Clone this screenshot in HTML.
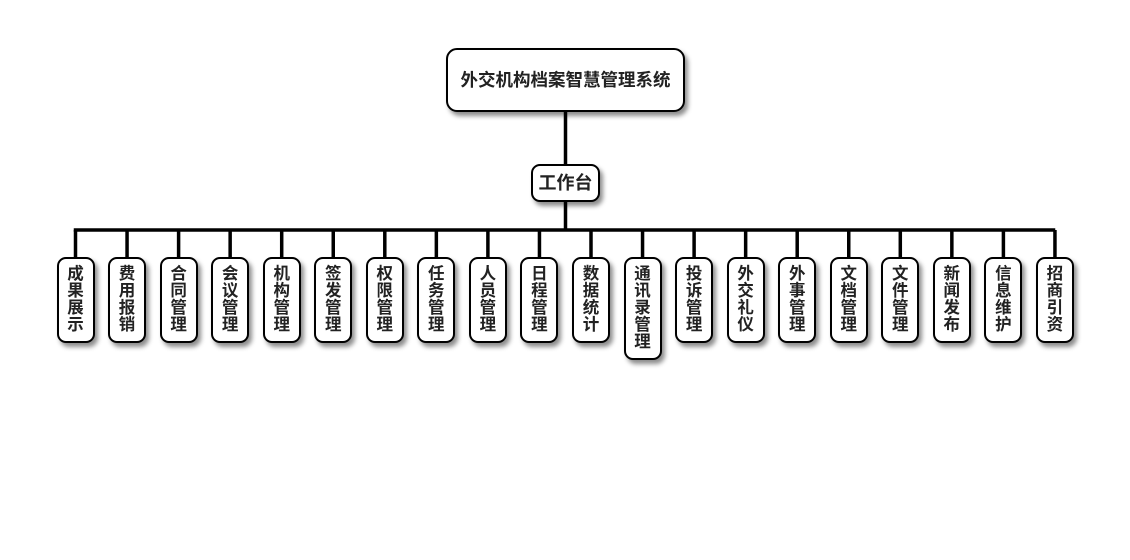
<!DOCTYPE html>
<html><head><meta charset="utf-8">
<style>
html,body{margin:0;padding:0;background:#fff;}
body{width:1130px;height:560px;position:relative;overflow:hidden;font-family:"Liberation Sans","Noto Sans CJK SC",sans-serif;}
.b{position:absolute;box-sizing:border-box;border:2px solid #000;background:#fff;border-radius:9px;box-shadow:3px 4px 5px rgba(0,0,0,0.45);color:#222;font-weight:bold;text-align:center;}
.v{width:38px;top:257px;height:86px;font-size:16.5px;line-height:17px;padding-top:7px;}
.v5{height:103px;}
svg{position:absolute;left:0;top:0;}
</style></head><body>
<svg width="1130" height="560">
<g stroke="#000" stroke-width="3.5" fill="none">
<line x1="565.5" y1="110" x2="565.5" y2="166"/>
<line x1="565.5" y1="200" x2="565.5" y2="230"/>
<line x1="73.75" y1="230" x2="1055.25" y2="230"/>
<line x1="75.5" y1="230" x2="75.5" y2="258"/>
<line x1="127.05" y1="230" x2="127.05" y2="258"/>
<line x1="178.6" y1="230" x2="178.6" y2="258"/>
<line x1="230.15" y1="230" x2="230.15" y2="258"/>
<line x1="281.7" y1="230" x2="281.7" y2="258"/>
<line x1="333.25" y1="230" x2="333.25" y2="258"/>
<line x1="384.8" y1="230" x2="384.8" y2="258"/>
<line x1="436.35" y1="230" x2="436.35" y2="258"/>
<line x1="487.9" y1="230" x2="487.9" y2="258"/>
<line x1="539.45" y1="230" x2="539.45" y2="258"/>
<line x1="591" y1="230" x2="591" y2="258"/>
<line x1="642.55" y1="230" x2="642.55" y2="258"/>
<line x1="694.1" y1="230" x2="694.1" y2="258"/>
<line x1="745.65" y1="230" x2="745.65" y2="258"/>
<line x1="797.2" y1="230" x2="797.2" y2="258"/>
<line x1="848.75" y1="230" x2="848.75" y2="258"/>
<line x1="900.3" y1="230" x2="900.3" y2="258"/>
<line x1="951.85" y1="230" x2="951.85" y2="258"/>
<line x1="1003.4" y1="230" x2="1003.4" y2="258"/>
<line x1="1054.95" y1="230" x2="1054.95" y2="258"/>
</g>
</svg>
<div class="b" style="left:446px;top:48px;width:239px;height:64px;border-radius:11px;font-size:17.5px;line-height:60px;">外交机构档案智慧管理系统</div>
<div class="b" style="left:531px;top:164px;width:69px;height:38px;font-size:18px;line-height:34px;">工作台</div>

<div class="b v" style="left:56.5px">成<br>果<br>展<br>示</div>
<div class="b v" style="left:108px">费<br>用<br>报<br>销</div>
<div class="b v" style="left:159.6px">合<br>同<br>管<br>理</div>
<div class="b v" style="left:211.1px">会<br>议<br>管<br>理</div>
<div class="b v" style="left:262.7px">机<br>构<br>管<br>理</div>
<div class="b v" style="left:314.2px">签<br>发<br>管<br>理</div>
<div class="b v" style="left:365.8px">权<br>限<br>管<br>理</div>
<div class="b v" style="left:417.3px">任<br>务<br>管<br>理</div>
<div class="b v" style="left:468.9px">人<br>员<br>管<br>理</div>
<div class="b v" style="left:520.4px">日<br>程<br>管<br>理</div>
<div class="b v" style="left:572px">数<br>据<br>统<br>计</div>
<div class="b v v5" style="left:623.5px">通<br>讯<br>录<br>管<br>理</div>
<div class="b v" style="left:675.1px">投<br>诉<br>管<br>理</div>
<div class="b v" style="left:726.6px">外<br>交<br>礼<br>仪</div>
<div class="b v" style="left:778.2px">外<br>事<br>管<br>理</div>
<div class="b v" style="left:829.7px">文<br>档<br>管<br>理</div>
<div class="b v" style="left:881.3px">文<br>件<br>管<br>理</div>
<div class="b v" style="left:932.8px">新<br>闻<br>发<br>布</div>
<div class="b v" style="left:984.4px">信<br>息<br>维<br>护</div>
<div class="b v" style="left:1035.9px">招<br>商<br>引<br>资</div>
</body></html>
